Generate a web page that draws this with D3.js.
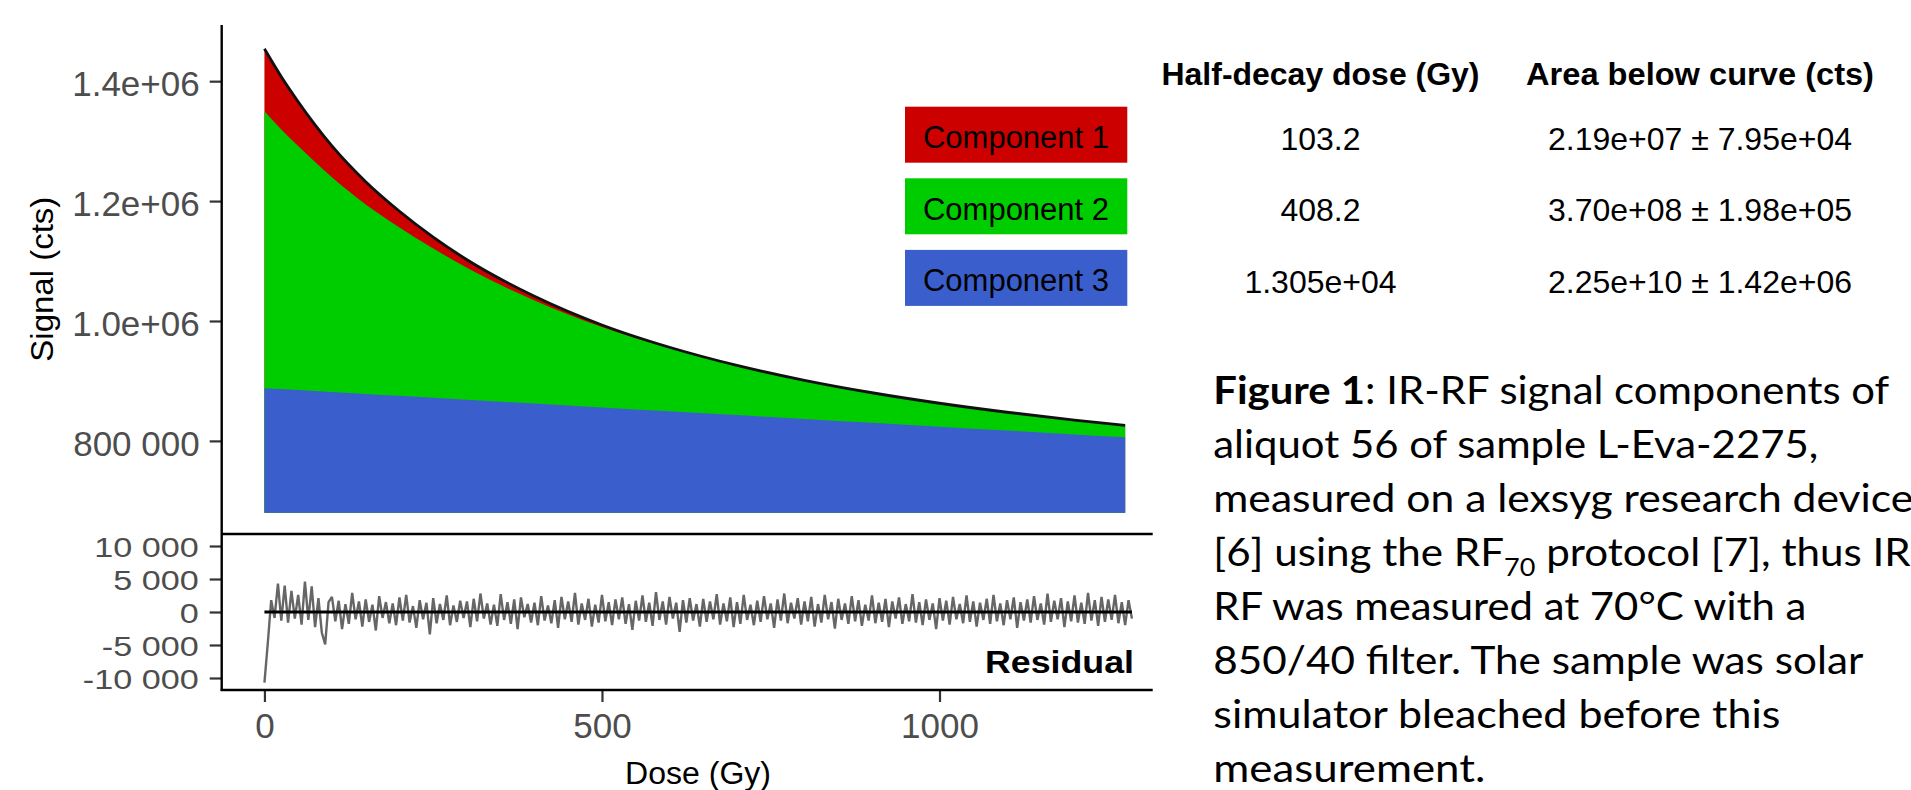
<!DOCTYPE html>
<html>
<head>
<meta charset="utf-8">
<script src="https://cdn.jsdelivr.net/npm/d3@7"></script>
<style>
  html, body { margin: 0; padding: 0; background: #ffffff; }
  svg { display: block; }
</style>
</head>
<body>
<svg id="chart" width="1911" height="790"></svg>
<script>
// ---------------- DATA ----------------
const doseGrid   = [0, 25, 50, 75, 100, 150, 200, 250, 300, 400, 500, 600, 700, 800, 900, 1000, 1100, 1200, 1275];
// upper boundary of component 3 (blue)
const comp3Top   = [888000, 886400, 884800, 883200, 881600, 878400, 875100, 871900, 868700, 862300, 855900, 849400, 843000, 836600, 830100, 823700, 817300, 810800, 806000];
// upper boundary of component 2 (green) stacked on component 3
const comp2Top   = [1350000, 1319400, 1291800, 1265200, 1239600, 1194400, 1156100, 1120900, 1088700, 1034300, 989900, 954400, 925000, 900600, 880100, 862700, 847800, 834800, 826000];
// measured / total signal (top of red component 1)
const totalSignal = [1454000, 1407400, 1365800, 1327200, 1292100, 1232400, 1183100, 1139900, 1102200, 1041300, 993400, 956200, 925900, 901000, 880300, 862800, 847800, 834800, 826000];
const areaFloor  = 680000;

// residuals, one value per 5 Gy channel starting at 0 Gy
const residStep = 5;
const residuals = [
  -10700, -4700, 1800, -900, 4300, -1300, 4000, -1600, 3200, -1000,
  2600, -1900, 4600, -1200, 3900, -2300, 2100, -3100, -4900, 1500,
  2300, -1400, 1700, -2600, 1200, -1800, 2900, -1100, 1600, -2200,
  1900, -1500, 1100, -2800, 2400, -900, 1500, -1700, 1300, -2000,
  2200, -1300, 2600, -1600, 900, -2400, 1800, -1100, 1400, -3400,
  2100, -1700, 1200, -1200, 2500, -2000, 1000, -1500, 1700, -900,
  1600, -2300, 2000, -1400, 2800, -1000, 1300, -1900, 1100, -2100,
  2700, -1200, 1500, -1800, 1900, -2600, 2200, -800, 1200, -1600,
  1400, -2000, 2400, -1300, 1000, -1700, 1800, -2400, 2300, -1100,
  1600, -1500, 2900, -1900, 1300, -1200, 2000, -2200, 1100, -1600,
  2600, -1400, 1500, -2000, 1900, -1100, 2200, -1800, 1200, -2700,
  1700, -1300, 2500, -1500, 1400, -2100, 3000, -1200, 1600, -1900,
  2300, -1000, 1400, -3000, 1800, -1600, 2100, -1300, 1200, -2200,
  2000, -1500, 1600, -1100, 2700, -1900, 1300, -1400, 2200, -2300,
  1500, -1800, 2600, -1200, 1100, -2000, 1700, -1500, 2400, -1100,
  1300, -2400, 1900, -1300, 2800, -1700, 1400, -1000, 2100, -1900,
  1600, -1400, 2300, -2200, 1200, -1600, 2600, -1100, 1500, -2500,
  2000, -1200, 1300, -1800, 2400, -1400, 1800, -2100, 1100, -1300,
  2500, -1700, 1400, -1500, 2000, -2300, 1600, -1000, 2200, -1800,
  1200, -1400, 2700, -1600, 1500, -2000, 1900, -1200, 1300, -2600,
  2100, -1300, 1700, -1900, 2300, -1100, 1200, -1700, 2500, -1500,
  1600, -2200, 1400, -1200, 2000, -1800, 2600, -1400, 1300, -2000,
  1800, -1100, 2200, -2400, 1500, -1300, 1900, -1600, 2400, -1200,
  1300, -1900, 2800, -1500, 1700, -1100, 2100, -2300, 1600, -1400,
  2500, -1600, 1400, -1800, 2900, -1300, 1800, -2100, 2300, -1500,
  1900, -1200, 2600, -1700, 1500, -2000, 1800, -1000
];

const mainTicks      = [800000, 1000000, 1200000, 1400000];
const mainTickLabels = ["800 000", "1.0e+06", "1.2e+06", "1.4e+06"];
const residTicks      = [-10000, -5000, 0, 5000, 10000];
const residTickLabels = ["-10 000", "-5 000", "0", "5 000", "10 000"];
const doseTicks      = [0, 500, 1000];
const doseTickLabels = ["0", "500", "1000"];

const components      = ["Component 1", "Component 2", "Component 3"];
const componentColors = ["#CD0000", "#00CD00", "#3A5FCD"];
const tableHeaders    = ["Half-decay dose (Gy)", "Area below curve (cts)"];
const halfDecayDose   = ["103.2", "408.2", "1.305e+04"];
const areaBelowCurve  = ["2.19e+07 \u00B1 7.95e+04", "3.70e+08 \u00B1 1.98e+05", "2.25e+10 \u00B1 1.42e+06"];

const captionLines = [
  [{t: "Figure 1", b: true}, {t: ": IR-RF signal components of"}],
  [{t: "aliquot 56 of sample L-Eva-2275,"}],
  [{t: "measured on a lexsyg research device"}],
  [{t: "[6] using the RF"}, {t: "70", sub: true}, {t: " protocol [7], thus IR-", after: true}],
  [{t: "RF was measured at 70\u00B0C with a"}],
  [{t: "850/40 filter. The sample was solar"}],
  [{t: "simulator bleached before this"}],
  [{t: "measurement."}]
];
const captionWidths = [676, 605, 700, 713, 593, 650, 567, 272];

// ---------------- LAYOUT ----------------
const svg = d3.select("#chart");
const FONT = "'Liberation Sans', Arial, Helvetica, sans-serif";
const panelLeft = 221.7, panelRight = 1152.7;
const mainTop = 25, split = 534, residBottom = 690;

const x = d3.scaleLinear().domain([-63.3, 1315.8]).range([panelLeft, panelRight]);
const yMain = d3.scaleLinear().domain([644700, 1493700]).range([split, mainTop]);
const yRes = d3.scaleLinear().domain([-11820, 11820]).range([residBottom, split]);

const pts = doseGrid.map((d, i) => ({d, c3: comp3Top[i], c2: comp2Top[i], tot: totalSignal[i]}));
const curve = d3.curveMonotoneX;

// stacked areas (drawn back-to-front from the floor)
const areaTo = key => d3.area().curve(curve)
  .x(p => x(p.d)).y0(yMain(areaFloor)).y1(p => yMain(p[key]));
svg.append("path").attr("d", areaTo("tot")(pts)).attr("fill", componentColors[0]);
svg.append("path").attr("d", areaTo("c2")(pts)).attr("fill", componentColors[1]);
svg.append("path").attr("d", areaTo("c3")(pts)).attr("fill", componentColors[2]);

// total signal line
svg.append("path")
  .attr("d", d3.line().curve(curve).x(p => x(p.d)).y(p => yMain(p.tot))(pts))
  .attr("fill", "none").attr("stroke", "#111").attr("stroke-width", 2.8);

// residual line
const resPts = residuals.map((v, i) => ({d: i * residStep, v}));
svg.append("path")
  .attr("d", d3.line().x(p => x(p.d)).y(p => yRes(p.v))(resPts))
  .attr("fill", "none").attr("stroke", "#666666").attr("stroke-width", 2.4)
  .attr("stroke-linejoin", "miter").attr("stroke-miterlimit", 1.5);
svg.append("line")
  .attr("x1", x(0)).attr("x2", x(resPts[resPts.length - 1].d))
  .attr("y1", yRes(0)).attr("y2", yRes(0))
  .attr("stroke", "#000").attr("stroke-width", 3);

// axes
function styleAxis(g, fontSize) {
  g.select(".domain").remove();
  g.selectAll(".tick line").attr("stroke", "#333333").attr("stroke-width", 2.2);
  g.selectAll(".tick text").attr("fill", "#4D4D4D")
    .style("font-family", FONT).style("font-size", fontSize + "px");
}
const gYMain = svg.append("g").attr("transform", `translate(${panelLeft},0)`)
  .call(d3.axisLeft(yMain).tickValues(mainTicks).tickSize(12).tickPadding(10)
    .tickFormat((d, i) => mainTickLabels[i]));
styleAxis(gYMain, 35);
gYMain.selectAll(".tick text").attr("dy", "0.42em");

const gYRes = svg.append("g").attr("transform", `translate(${panelLeft},0)`)
  .call(d3.axisLeft(yRes).tickValues(residTicks).tickSize(12).tickPadding(11)
    .tickFormat((d, i) => residTickLabels[i]));
styleAxis(gYRes, 28);
gYRes.selectAll(".tick text").attr("dy", "0.36em")
  .each(function() {
    const w = this.getComputedTextLength();
    d3.select(this).attr("textLength", w * 1.22).attr("lengthAdjust", "spacingAndGlyphs");
  });

const gX = svg.append("g").attr("transform", `translate(0,${residBottom})`)
  .call(d3.axisBottom(x).tickValues(doseTicks).tickSize(12).tickPadding(11)
    .tickFormat((d, i) => doseTickLabels[i]));
styleAxis(gX, 35);

// axis lines and panel divider
svg.append("line").attr("x1", panelLeft).attr("x2", panelLeft).attr("y1", mainTop).attr("y2", residBottom + 1)
  .attr("stroke", "#000").attr("stroke-width", 2.4);
svg.append("line").attr("x1", panelLeft).attr("x2", panelRight).attr("y1", split).attr("y2", split)
  .attr("stroke", "#000").attr("stroke-width", 2.4);
svg.append("line").attr("x1", panelLeft - 1).attr("x2", panelRight).attr("y1", residBottom).attr("y2", residBottom)
  .attr("stroke", "#000").attr("stroke-width", 2.4);

// axis titles
svg.append("text").attr("transform", "translate(53,279.2) rotate(-90)")
  .attr("text-anchor", "middle").attr("textLength", 165).attr("lengthAdjust", "spacingAndGlyphs")
  .style("font-family", FONT).style("font-size", "31px").attr("fill", "#000")
  .text("Signal (cts)");
svg.append("text").attr("x", 698).attr("y", 784).attr("text-anchor", "middle")
  .attr("textLength", 146).attr("lengthAdjust", "spacingAndGlyphs")
  .style("font-family", FONT).style("font-size", "31px").attr("fill", "#000")
  .text("Dose (Gy)");

// residual panel label
svg.append("text").attr("x", 1134).attr("y", 673.3).attr("text-anchor", "end")
  .attr("textLength", 149).attr("lengthAdjust", "spacingAndGlyphs")
  .style("font-family", FONT).style("font-size", "32px").style("font-weight", "bold").attr("fill", "#000")
  .text("Residual");

// legend boxes
const rowCenters = [134.7, 206.3, 277.9];
const leg = svg.append("g");
components.forEach((c, i) => {
  leg.append("rect").attr("x", 905).attr("y", rowCenters[i] - 28).attr("width", 222.3).attr("height", 56)
    .attr("fill", componentColors[i]);
  leg.append("text").attr("x", 1016).attr("y", rowCenters[i] + 13.5).attr("text-anchor", "middle")
    .style("font-family", FONT).style("font-size", "31px").attr("fill", "#000").text(c);
});

// table
const colCenters = [1320.5, 1700];
const headerWidths = [318, 348];
tableHeaders.forEach((h, j) => {
  svg.append("text").attr("x", colCenters[j]).attr("y", 85).attr("text-anchor", "middle")
    .attr("textLength", headerWidths[j]).attr("lengthAdjust", "spacingAndGlyphs")
    .style("font-family", FONT).style("font-size", "31px").style("font-weight", "bold").attr("fill", "#000")
    .text(h);
});
[halfDecayDose, areaBelowCurve].forEach((col, j) => {
  col.forEach((v, i) => {
    svg.append("text").attr("x", colCenters[j]).attr("y", rowCenters[i] + 15).attr("text-anchor", "middle")
      .style("font-family", FONT).style("font-size", "32px").attr("fill", "#000").text(v);
  });
});

// caption
const capX = 1213.3, capY0 = 404, capDy = 54;
captionLines.forEach((line, i) => {
  const t = svg.append("text").attr("x", capX).attr("y", capY0 + i * capDy)
    .attr("textLength", captionWidths[i]).attr("lengthAdjust", "spacingAndGlyphs")
    .style("font-family", "Lato, 'Open Sans', sans-serif").style("font-size", "39px").attr("fill", "#000");
  line.forEach(seg => {
    const ts = t.append("tspan").text(seg.t);
    if (seg.b) ts.style("font-weight", "bold");
    if (seg.sub) ts.style("font-size", "25px").attr("dy", "10");
    if (seg.after) ts.attr("dy", "-10");
  });
});
</script>
</body>
</html>
